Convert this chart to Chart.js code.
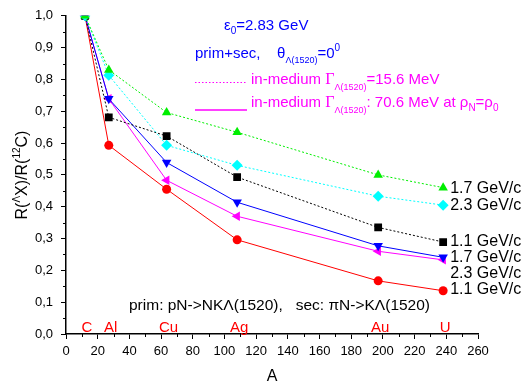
<!DOCTYPE html>
<html>
<head>
<meta charset="utf-8">
<script src="https://cdn.jsdelivr.net/npm/chart.js@4.4.1/dist/chart.umd.min.js"></script>
<style>
  html, body { margin: 0; padding: 0; background: #fff; }
  #wrap { width: 521px; height: 387px; }
</style>
</head>
<body>
<div id="wrap"><canvas id="chart" width="521" height="387"></canvas></div>
<script>
// Data
const massNumbers = [12, 27, 63.5, 108, 197, 238];
const elements = ['C', 'Al', 'Cu', 'Ag', 'Au', 'U'];

const green17 = [1.0, 0.830, 0.696, 0.634, 0.500, 0.460];
const cyan23  = [1.0, 0.813, 0.593, 0.530, 0.433, 0.405];
const black11 = [1.0, 0.681, 0.622, 0.493, 0.335, 0.289];
const blue17  = [1.0, 0.739, 0.539, 0.414, 0.277, 0.241];
const mag23   = [1.0, 0.739, 0.483, 0.370, 0.260, 0.233];
const red11   = [1.0, 0.593, 0.455, 0.296, 0.167, 0.136];

const seriesLabels = ['1.7 GeV/c', '2.3 GeV/c', '1.1 GeV/c', '1.7 GeV/c', '2.3 GeV/c', '1.1 GeV/c'];

const FONT = "'Liberation Sans', Arial, sans-serif";

function pts(vals) {
    return vals.map((v, i) => ({ x: massNumbers[i], y: v }));
}

function makeSet(vals, color, style, dotted, rot, labelShift) {
    return {
        data: pts(vals),
        borderColor: color,
        backgroundColor: color,
        borderWidth: 1,
        borderDash: dotted ? [2, 2] : [],
        pointStyle: style,
        pointRotation: rot,
        pointRadius: style === 'circle' ? 4.5 : 5.5,
        pointBorderWidth: 0,
        labelShift: labelShift,
        tension: 0
    };
}

const datasets = [
    makeSet(green17, '#00ee00', 'triangle', true, 0, 5),
    makeSet(cyan23, '#00ffff', 'rectRot', true, 0, 5),
    makeSet(black11, '#000000', 'rect', true, 0, 4),
    makeSet(blue17, '#0000ff', 'triangle', false, 180, 4.5),
    makeSet(mag23, '#ff00ff', 'triangle', false, -90, 18),
    makeSet(red11, '#ff0000', 'circle', false, 0, 3)
];
datasets.forEach((d, i) => { d.label = seriesLabels[i]; });

// draws text runs with sub/superscripts
function drawRuns(ctx, runs, x, y) {
    runs.forEach(r => {
        ctx.font = r.size + 'px ' + (r.family || FONT);
        ctx.fillStyle = r.color;
        ctx.fillText(r.t, x, y + (r.dy || 0));
        x += ctx.measureText(r.t).width;
    });
    return x;
}

const minorTicks = {
    id: 'minorTicks',
    afterDraw(chart) {
        const ctx = chart.ctx;
        const xs = chart.scales.x, ys = chart.scales.y;
        ctx.save();
        ctx.strokeStyle = '#000';
        ctx.lineWidth = 1;
        ctx.beginPath();
        for (let v = 10; v < 260; v += 20) {
            const px = Math.round(xs.getPixelForValue(v)) + 0.5;
            ctx.moveTo(px, ys.bottom);
            ctx.lineTo(px, ys.bottom + 3);
        }
        for (let v = 0.05; v < 1; v += 0.1) {
            const py = Math.round(ys.getPixelForValue(v)) + 0.5;
            ctx.moveTo(xs.left, py);
            ctx.lineTo(xs.left - 3, py);
        }
        ctx.stroke();
        ctx.restore();
    }
};

const annotations = {
    id: 'annotations',
    afterDraw(chart) {
        const ctx = chart.ctx;
        const xs = chart.scales.x, ys = chart.scales.y;
        ctx.save();
        ctx.textBaseline = 'alphabetic';

        // element names along the bottom
        ctx.font = '15px ' + FONT;
        ctx.fillStyle = '#ff0000';
        ctx.textAlign = 'center';
        elements.forEach((el, i) => {
            ctx.fillText(el, xs.getPixelForValue(massNumbers[i]) + 2, ys.bottom - 2);
        });
        ctx.textAlign = 'left';

        // series labels at right end
        ctx.font = '16px ' + FONT;
        ctx.fillStyle = '#000';
        chart.data.datasets.forEach(ds => {
            const last = ds.data[ds.data.length - 1];
            const py = ys.getPixelForValue(last.y);
            ctx.fillText(ds.label, xs.getPixelForValue(last.x) + 7, py + ds.labelShift);
        });

        const blue = '#0000ff', mag = '#ff00ff';
        drawRuns(ctx, [
            { t: 'ε', size: 15, color: blue },
            { t: '0', size: 10, color: blue, dy: 4 },
            { t: '=2.83 GeV', size: 15, color: blue }
        ], 224, 30);

        drawRuns(ctx, [
            { t: 'prim+sec,    ', size: 15, color: blue },
            { t: 'θ', size: 15, color: blue },
            { t: 'Λ(1520)', size: 9, color: blue, dy: 5 },
            { t: '=0', size: 15, color: blue },
            { t: '0', size: 10, color: blue, dy: -7 }
        ], 195, 58);

        ctx.strokeStyle = mag;
        ctx.lineWidth = 1;
        ctx.setLineDash([1.5, 2]);
        ctx.beginPath();
        ctx.moveTo(195, 82.5); ctx.lineTo(247, 82.5);
        ctx.stroke();
        ctx.setLineDash([]);
        ctx.strokeStyle = mag;
        ctx.lineWidth = 1.3;
        ctx.beginPath();
        ctx.moveTo(195, 110); ctx.lineTo(247, 110);
        ctx.stroke();

        drawRuns(ctx, [
            { t: 'in-medium ', size: 15, color: mag },
            { t: 'Γ', size: 16, color: mag, family: "'Liberation Serif', serif" },
            { t: 'Λ(1520)', size: 9, color: mag, dy: 6 },
            { t: '=15.6 MeV', size: 15, color: mag }
        ], 251, 84);

        drawRuns(ctx, [
            { t: 'in-medium ', size: 15, color: mag },
            { t: 'Γ', size: 16, color: mag, family: "'Liberation Serif', serif" },
            { t: 'Λ(1520)', size: 9, color: mag, dy: 6 },
            { t: ': 70.6 MeV at ', size: 15, color: mag },
            { t: 'ρ', size: 15, color: mag },
            { t: 'N', size: 10, color: mag, dy: 4 },
            { t: '=ρ', size: 15, color: mag },
            { t: '0', size: 10, color: mag, dy: 4 }
        ], 251, 107);

        drawRuns(ctx, [
            { t: 'prim: pN->NKΛ(1520),   sec: πN->KΛ(1520)', size: 15.5, color: '#000' }
        ], 129, 310);

        // axis titles
        ctx.fillStyle = '#000';
        ctx.font = '16px ' + FONT;
        ctx.textAlign = 'center';
        ctx.fillText('A', (xs.left + xs.right) / 2, 381);

        ctx.translate(27, 175);
        ctx.rotate(-Math.PI / 2);
        ctx.textAlign = 'left';
        const runs = [
            { t: 'R(', size: 16, color: '#000' },
            { t: 'Λ', size: 10, color: '#000', dy: -7 },
            { t: 'X)/R(', size: 16, color: '#000' },
            { t: '12', size: 10, color: '#000', dy: -7 },
            { t: 'C)', size: 16, color: '#000' }
        ];
        let w = 0;
        runs.forEach(r => { ctx.font = r.size + 'px ' + FONT; w += ctx.measureText(r.t).width; });
        drawRuns(ctx, runs, -w / 2, 0);
        ctx.restore();
    }
};

const ctx = document.getElementById('chart').getContext('2d');
new Chart(ctx, {
    type: 'line',
    data: { datasets: datasets },
    options: {
        responsive: false,
        animation: false,
        layout: { padding: { top: 11, right: 43, left: 0, bottom: 0 } },
        plugins: { legend: { display: false }, tooltip: { enabled: false } },
        scales: {
            x: {
                type: 'linear',
                min: 0, max: 260,
                afterFit(scale) { scale.height = 53; },
                ticks: { stepSize: 20, color: '#000', font: { family: FONT, size: 13 }, padding: 5, maxRotation: 0 },
                grid: { drawOnChartArea: false, tickLength: 5, color: '#000' },
                border: { color: '#000', width: 1.5 }
            },
            y: {
                min: 0, max: 1,
                afterFit(scale) { scale.width = 66; },
                ticks: {
                    stepSize: 0.1, color: '#000', font: { family: FONT, size: 13 }, padding: 8,
                    callback: v => v.toFixed(1).replace('.', ',')
                },
                grid: { drawOnChartArea: false, tickLength: 5, color: '#000' },
                border: { color: '#000', width: 1.5 }
            }
        }
    },
    plugins: [minorTicks, annotations]
});
</script>
</body>
</html>
